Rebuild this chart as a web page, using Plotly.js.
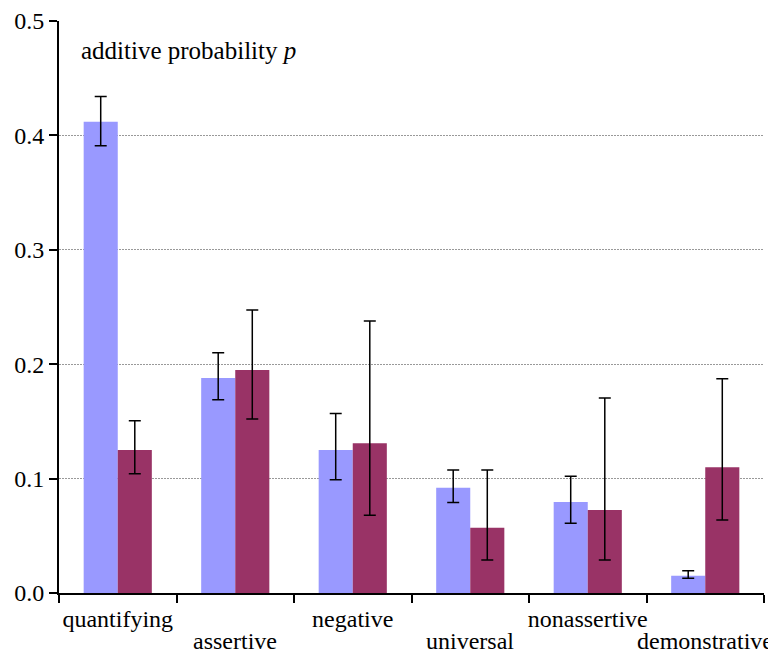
<!DOCTYPE html>
<html>
<head>
<meta charset="utf-8">
<script src="https://cdn.plot.ly/plotly-3.0.1.min.js"></script>
<style>html,body{margin:0;padding:0;background:#fff;}#chart{width:768px;height:650px;}</style>
</head>
<body>
<div id="chart"></div>
<script>
const categories = ["quantifying", "assertive", "negative", "universal", "nonassertive", "demonstrative"];
const blueValues = [0.412, 0.188, 0.125, 0.092, 0.0795, 0.015];
const blueErrHigh = [0.434, 0.210, 0.157, 0.1075, 0.102, 0.0195];
const blueErrLow = [0.391, 0.169, 0.099, 0.079, 0.061, 0.013];
const redValues = [0.125, 0.195, 0.131, 0.057, 0.0726, 0.110];
const redErrHigh = [0.1506, 0.2474, 0.2378, 0.1075, 0.1705, 0.1873];
const redErrLow = [0.1043, 0.152, 0.068, 0.0288, 0.0288, 0.0638];
const annotationText = "additive probability <i>p</i>";

const plus = (hi, v) => hi.map((h, i) => h - v[i]);
const minus = (lo, v) => lo.map((l, i) => v[i] - l);

const errStyle = {type: 'data', symmetric: false, color: '#000', thickness: 1.5, width: 6};

const traces = [
  {type: 'bar', x: categories, y: blueValues, marker: {color: '#9999ff'},
   error_y: Object.assign({array: plus(blueErrHigh, blueValues), arrayminus: minus(blueErrLow, blueValues)}, errStyle)},
  {type: 'bar', x: categories, y: redValues, marker: {color: '#993366'},
   error_y: Object.assign({array: plus(redErrHigh, redValues), arrayminus: minus(redErrLow, redValues)}, errStyle)}
];

const family = 'Liberation Serif';
const font = {family: family, size: 24, color: '#000'};

// labels for odd categories drawn lower (second row), placed via the x axis scale
const lowerLabels = categories.map((c, i) => ({c: c, i: i})).filter(o => o.i % 2 === 1).map(o => ({
  xref: 'x', yref: 'paper', x: o.c, y: 0, yanchor: 'top', xanchor: 'center', yshift: -33,
  text: o.c, showarrow: false, font: font
}));

const layout = {
  width: 768, height: 650,
  margin: {l: 59, r: 4, t: 21, b: 57},
  paper_bgcolor: '#fff', plot_bgcolor: '#fff',
  showlegend: false,
  barmode: 'group', bargap: 0.42, bargroupgap: 0,
  font: font,
  xaxis: {
    type: 'category', categoryarray: categories, range: [-0.5, 5.5],
    tickmode: 'array', tickvals: categories,
    ticktext: categories.map((c, i) => i % 2 === 0 ? c : ''),
    tickson: 'boundaries', ticks: 'outside', ticklen: 8, tickwidth: 2, tickcolor: '#000',
    tickangle: 0, ticklabelstandoff: 3,
    showline: true, linewidth: 2, linecolor: '#000',
    showgrid: false, zeroline: false, fixedrange: true,
    tickfont: font
  },
  yaxis: {
    range: [0, 0.5], dtick: 0.1, tick0: 0, tickformat: '.1f',
    ticks: 'outside', ticklen: 8, tickwidth: 2, tickcolor: '#000',
    showline: true, linewidth: 2, linecolor: '#000',
    showgrid: true, gridcolor: '#999', gridwidth: 1, griddash: '2px,1px',
    zeroline: false, tickfont: font
  },
  annotations: [{
    xref: 'paper', yref: 'paper', x: 0.028, y: 0.949, xanchor: 'left', yanchor: 'middle',
    text: annotationText, showarrow: false, font: {family: family, size: 25, color: '#000'}
  }].concat(lowerLabels)
};

Plotly.newPlot('chart', traces, layout, {displayModeBar: false, staticPlot: true});
</script>
</body>
</html>
